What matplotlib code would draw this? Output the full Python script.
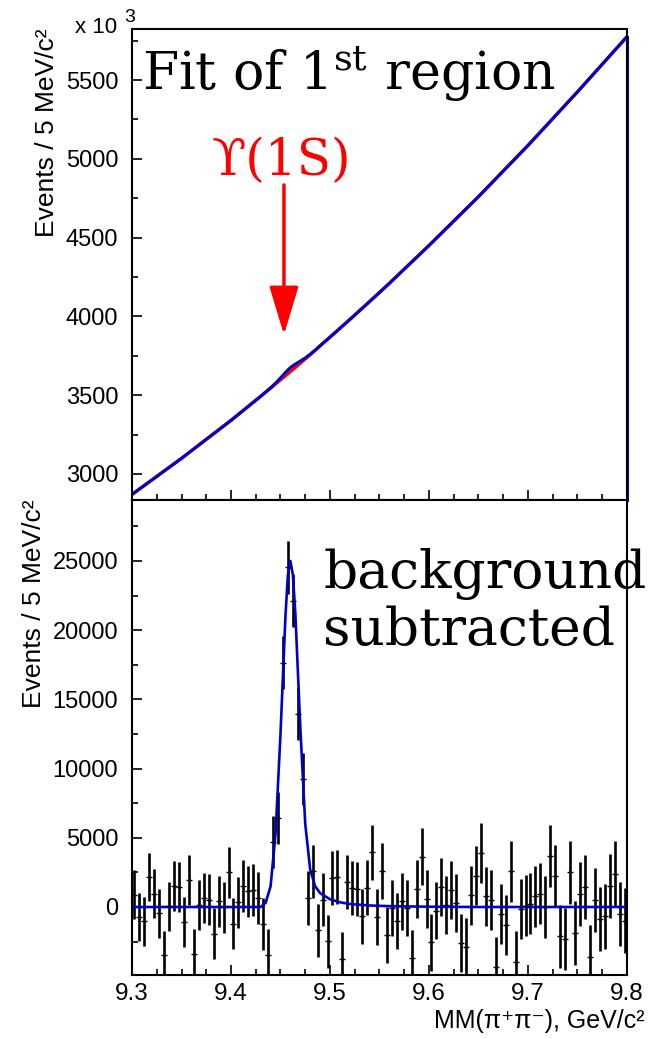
import numpy as np
import matplotlib
matplotlib.use("Agg")
import matplotlib.pyplot as plt
from matplotlib.ticker import MultipleLocator

# background-subtracted histogram, 5 MeV bins from 9.30 to 9.80 GeV
bin_lo = 9.30
bin_w = 0.005
counts = [900, -725, -1040, 2170, 940, -435, -3500, 50, 1500, 1425,
          -1090, 1930, -3380, 145, 650, 530, -1930, 410, -25, 2510,
          -1210, 340, 1500, 1135, 1210, 650, -1210, -3450, 4690, 6450,
          17660, 24540, 22130, 13960, 9250, 650, 2580, -1690, 530, -2490,
          2100, 2170, -3770, 1790, 1380, 1300, -680, 1380, 3960, -725,
          2580, -2000, -70, -1040, 410, -70, -3700, 1300, 3620, 580,
          -2560, -265, 1425, 170, 1255, 290, -2600, -2920, 845, 2270,
          3910, 770, 530, -4370, -510, -1280, 2580, -3940, -145, 100,
          240, 770, 970, 0, 3720, 2220, -2130, -2320, 2510, -1880,
          940, 1450, -3620, 530, -870, -680, 1500, 2420, -510, -990]
errors = [1750, 1750, 1760, 1760, 1770, 1770, 1780, 1780, 1790, 1790,
          1800, 1800, 1810, 1810, 1820, 1820, 1830, 1830, 1840, 1840,
          1850, 1850, 1860, 1860, 1870, 1870, 1880, 1880, 1880, 1890,
          1900, 1900, 1900, 1910, 1910, 1920, 1920, 1930, 1930, 1940,
          1950, 1950, 1960, 1960, 1970, 1980, 1980, 1990, 2000, 2000,
          2010, 2020, 2020, 2030, 2040, 2040, 2050, 2060, 2060, 2070,
          2080, 2080, 2090, 2100, 2100, 2110, 2120, 2120, 2130, 2140,
          2150, 2150, 2160, 2170, 2170, 2180, 2190, 2190, 2200, 2210,
          2220, 2220, 2230, 2240, 2240, 2250, 2260, 2260, 2270, 2280,
          2290, 2290, 2300, 2310, 2310, 2320, 2330, 2330, 2340, 2350]

# fit curves
fit_x = [9.30, 9.35, 9.40, 9.43, 9.435, 9.44, 9.445, 9.45, 9.455, 9.4575,
         9.46, 9.4625, 9.465, 9.47, 9.475, 9.48, 9.485, 9.49, 9.50, 9.51,
         9.52, 9.54, 9.56, 9.60, 9.65, 9.70, 9.75, 9.80]
bkg_fit = [2870, 3099, 3340, 3493, 3519, 3545, 3571, 3597, 3623, 3636,
           3650, 3663, 3676, 3703, 3730, 3757, 3784, 3813, 3868, 3924,
           3980, 4094, 4210, 4450, 4760, 5085, 5425, 5775]  # x 10^3
sig_fit = [0, 0, 0, 0, 300, 1500, 5300, 12500, 21000, 24000,
           25000, 24000, 21200, 13000, 6000, 2700, 1500, 1000, 560, 340,
           220, 110, 60, 20, 0, 0, 0, 0]

sans = ['Liberation Sans', 'DejaVu Sans']
serif = ['DejaVu Serif', 'DejaVu Sans']
plt.rcParams['font.family'] = sans
plt.rcParams['mathtext.fontset'] = 'dejavuserif'
plt.rcParams['xtick.labelsize'] = 17.5
plt.rcParams['ytick.labelsize'] = 17
plt.rcParams['xtick.direction'] = 'in'
plt.rcParams['ytick.direction'] = 'in'

fig = plt.figure(figsize=(6.62, 10.39), dpi=100)
ax1 = fig.add_axes([0.1994, 0.5188, 0.7477, 0.4533])
ax2 = fig.add_axes([0.1994, 0.0616, 0.7477, 0.4572], sharex=ax1)

fx = np.array(fit_x)
bkg = np.array(bkg_fit)
tot = bkg + np.array(sig_fit) / 1000.0

# top panel
ax1.plot(fx, bkg, color='red', lw=2.4)
ax1.plot(fx, tot, color='#0000cc', lw=2.2)
ax1.plot([fx[-1], fx[-1]], [2835, tot[-1]], color='#0000cc', lw=2.2, clip_on=False)
ax1.set_ylim(2835, 5824)
ax1.yaxis.set_major_locator(MultipleLocator(500))
ax1.yaxis.set_minor_locator(MultipleLocator(250))
ax1.set_ylabel('Events / 5 MeV/c²', loc='top', fontsize=19, labelpad=5)
ax1.text(-0.115, 0.9915, 'x 10', transform=ax1.transAxes, fontsize=16,
         va='baseline', ha='left')
ax1.text(-0.016, 1.0149, '3', transform=ax1.transAxes, fontsize=14,
         va='baseline', ha='left')
ax1.text(0.02, 0.87, r'Fit of 1$^{\mathrm{st}}$ region', transform=ax1.transAxes,
         fontsize=37.5, family=serif, va='baseline', ha='left')
ax1.text(0.301, 0.69, 'ϒ(1S)', transform=ax1.transAxes, color='red',
         fontsize=36, family=serif, va='baseline', ha='center')
ax1.annotate('', xy=(9.4535, 3882), xytext=(9.4535, 4834),
             arrowprops=dict(arrowstyle='-|>,head_length=3.0,head_width=0.9',
                             color='red', lw=2.5, shrinkA=0, shrinkB=0))

# bottom panel
centers = bin_lo + bin_w * (np.arange(len(counts)) + 0.5)
ax2.errorbar(centers, counts, yerr=errors, fmt='_', color='black',
             ecolor='black', elinewidth=1.9, markersize=5, capsize=0)
ax2.plot(fx, sig_fit, color='#0000cc', lw=1.9)
ax2.set_ylim(-4913, 29408)
ax2.set_xlim(9.3, 9.8)
ax2.yaxis.set_major_locator(MultipleLocator(5000))
ax2.yaxis.set_minor_locator(MultipleLocator(2500))
ax2.xaxis.set_major_locator(MultipleLocator(0.1))
ax2.xaxis.set_minor_locator(MultipleLocator(0.025))
ax2.set_ylabel('Events / 5 MeV/c²', loc='top', fontsize=19, labelpad=5)
ax2.set_xlabel('MM(π⁺π⁻), GeV/c²', loc='right', fontsize=18)
ax2.xaxis.set_label_coords(1.035, -0.072)
ax2.text(0.386, 0.815, 'background', transform=ax2.transAxes,
         fontsize=38.5, family=serif, va='baseline', ha='left')
ax2.text(0.386, 0.695, 'subtracted', transform=ax2.transAxes,
         fontsize=38.5, family=serif, va='baseline', ha='left')

for ax in (ax1, ax2):
    ax.tick_params(which='both', direction='in', top=False, right=False)
    ax.tick_params(which='major', length=7, width=1.2)
    ax.tick_params(which='minor', length=4, width=1.2)
    ax.tick_params(axis='y', which='major', pad=10)
    for sp in ax.spines.values():
        sp.set_linewidth(1.5)
ax1.tick_params(axis='x', labelbottom=False)
ax2.tick_params(axis='x', which='major', pad=6)

fig.savefig('out.png', dpi=100)
